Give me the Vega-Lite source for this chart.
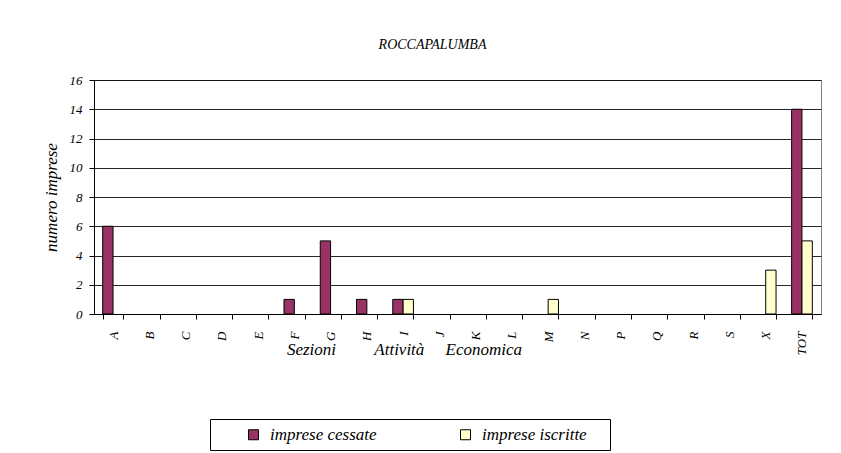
{
  "$schema": "https://vega.github.io/schema/vega-lite/v6.json",
  "width": 727,
  "height": 234,
  "autosize": {"type": "none"},
  "padding": {"left": 94, "top": 80, "right": 20, "bottom": 139},
  "background": "white",
  "title": {
    "text": "ROCCAPALUMBA",
    "font": "Liberation Serif",
    "fontStyle": "italic",
    "fontWeight": "normal",
    "fontSize": 14,
    "color": "black",
    "anchor": "middle",
    "dx": -25,
    "offset": 22
  },
  "data": {
    "values": [
      {"sezione": "A", "serie": "imprese cessate", "n": 6},
      {"sezione": "F", "serie": "imprese cessate", "n": 1},
      {"sezione": "G", "serie": "imprese cessate", "n": 5},
      {"sezione": "H", "serie": "imprese cessate", "n": 1},
      {"sezione": "I", "serie": "imprese cessate", "n": 1},
      {"sezione": "I", "serie": "imprese iscritte", "n": 1},
      {"sezione": "M", "serie": "imprese iscritte", "n": 1},
      {"sezione": "X", "serie": "imprese iscritte", "n": 3},
      {"sezione": "TOT", "serie": "imprese cessate", "n": 14},
      {"sezione": "TOT", "serie": "imprese iscritte", "n": 5}
    ]
  },
  "mark": {"type": "bar", "stroke": "black", "strokeWidth": 1},
  "encoding": {
    "x": {
      "field": "sezione",
      "type": "nominal",
      "scale": {"domain": ["A", "B", "C", "D", "E", "F", "G", "H", "I", "J", "K", "L", "M", "N", "P", "Q", "R", "S", "X", "TOT"], "paddingInner": 0.43, "paddingOuter": 0.24},
      "axis": {
        "title": "Sezioni\u00a0\u00a0\u00a0\u00a0\u00a0\u00a0\u00a0\u00a0\u00a0Attività\u00a0\u00a0\u00a0\u00a0\u00a0Economica",
        "titleFont": "Liberation Serif",
        "titleFontStyle": "italic",
        "titleFontWeight": "normal",
        "titleFontSize": 17,
        "titleColor": "black",
        "titleX": 310,
        "titlePadding": -13,
        "labelAngle": -90,
        "labelFont": "Liberation Serif",
        "labelFontStyle": "italic",
        "labelFontSize": 13,
        "labelColor": "black",
        "labelPadding": 12,
        "tickBand": "extent",
        "tickSize": 5,
        "tickColor": "black",
        "domainColor": "black",
        "grid": false
      }
    },
    "xOffset": {
      "field": "serie",
      "type": "nominal",
      "scale": {"domain": ["imprese cessate", "imprese iscritte"], "paddingInner": 0, "paddingOuter": 0}
    },
    "y": {
      "field": "n",
      "type": "quantitative",
      "scale": {"domain": [0, 16], "nice": false},
      "axis": {
        "values": [0, 2, 4, 6, 8, 10, 12, 14, 16],
        "title": "numero imprese",
        "titleFont": "Liberation Serif",
        "titleFontStyle": "italic",
        "titleFontWeight": "normal",
        "titleFontSize": 17,
        "titleColor": "black",
        "titlePadding": 9,
        "labelFont": "Liberation Serif",
        "labelFontStyle": "italic",
        "labelFontSize": 13,
        "labelColor": "black",
        "labelPadding": 7,
        "tickSize": 5,
        "tickColor": "black",
        "domainColor": "black",
        "gridColor": "black",
        "gridOpacity": 0.85
      }
    },
    "color": {
      "field": "serie",
      "type": "nominal",
      "scale": {"domain": ["imprese cessate", "imprese iscritte"], "range": ["#993366", "#FFFFCC"]},
      "legend": {
        "title": "\u00a0",
        "titleOrient": "right",
        "titlePadding": 16,
        "titleFontSize": 17,
        "orient": "none",
        "direction": "horizontal",
        "legendX": 116,
        "legendY": 339,
        "strokeColor": "black",
        "padding": 7,
        "symbolType": "square",
        "symbolSize": 100,
        "symbolStrokeColor": "black",
        "symbolStrokeWidth": 1,
        "symbolOffset": 28,
        "labelFont": "Liberation Serif",
        "labelFontStyle": "italic",
        "labelFontSize": 17,
        "labelColor": "black",
        "labelOffset": 8,
        "columnPadding": 52,
        "labelLimit": 300
      }
    }
  },
  "config": {
    "view": {"stroke": "#808080"}
  }
}
